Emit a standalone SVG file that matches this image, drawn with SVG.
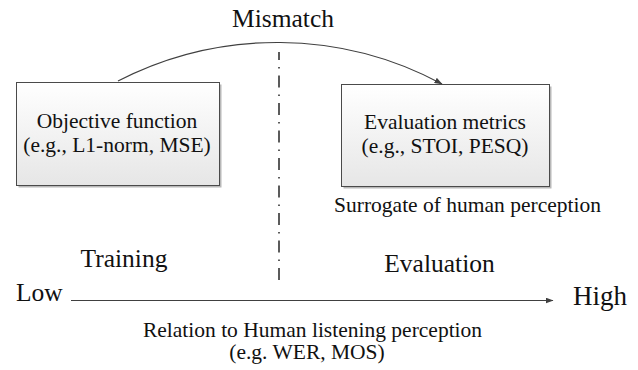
<svg xmlns="http://www.w3.org/2000/svg" width="638" height="370" viewBox="0 0 638 370">
  <defs>
    <linearGradient id="boxGrad" x1="0" y1="0" x2="0" y2="1">
      <stop offset="0" stop-color="#ffffff"/>
      <stop offset="1" stop-color="#e6e6e6"/>
    </linearGradient>
    <marker id="arrow" markerWidth="8" markerHeight="6" refX="7.5" refY="3" orient="auto" markerUnits="userSpaceOnUse">
      <path d="M0,0 L8,3 L0,6 Z" fill="#404040"/>
    </marker>
    <style>
      .box { fill: url(#boxGrad); stroke: #4a4a4a; stroke-width: 1; }
      .shadow { fill: #9a9a9a; opacity: 0.7; }
      .lbl { font-size: 21.5px; text-anchor: middle; }
      .big { font-size: 25.5px; }
      .conn { fill: none; stroke: #404040; stroke-width: 1.2; }
    </style>
  </defs>

  <g font-family="Liberation Serif, DejaVu Serif, serif" fill="#111">
  <g id="objective">
    <rect class="shadow" x="18.5" y="84.5" width="203" height="103"/>
    <rect class="box" x="16.5" y="82.5" width="203" height="103"/>
    <text class="lbl" x="117" y="128">Objective function</text>
    <text class="lbl" x="117" y="152">(e.g., L1-norm, MSE)</text>
  </g>

  <g id="evaluation">
    <rect class="shadow" x="343.5" y="86.5" width="208" height="102"/>
    <rect class="box" x="341.5" y="84.5" width="208" height="102"/>
    <text class="lbl" x="445" y="129">Evaluation metrics</text>
    <text class="lbl" x="445" y="153">(e.g., STOI, PESQ)</text>
  </g>

  <g id="labels">
    <text class="big" x="283" y="27" text-anchor="middle">Mismatch</text>
    <text class="lbl" x="467.5" y="212">Surrogate of human perception</text>
    <text class="big" x="124" y="267" text-anchor="middle">Training</text>
    <text class="big" x="439.5" y="272" text-anchor="middle">Evaluation</text>
    <text class="big" x="16" y="301">Low</text>
    <text class="big" x="573" y="305" style="font-size:27px">High</text>
    <text class="lbl" x="312.5" y="337">Relation to Human listening perception</text>
    <text class="lbl" x="307" y="359">(e.g. WER, MOS)</text>
  </g>
  </g>

  <g id="connectors">
    <path class="conn" d="M118,81 A348,348 0 0 1 442,84" marker-end="url(#arrow)"/>
    <line x1="279" y1="52" x2="279" y2="283" stroke="#333" stroke-width="1.6" stroke-dasharray="12 7 1.5 7" stroke-dashoffset="4"/>
    <line class="conn" x1="71" y1="300.5" x2="553" y2="300.5" stroke="#555" marker-end="url(#arrow)"/>
  </g>
</svg>
